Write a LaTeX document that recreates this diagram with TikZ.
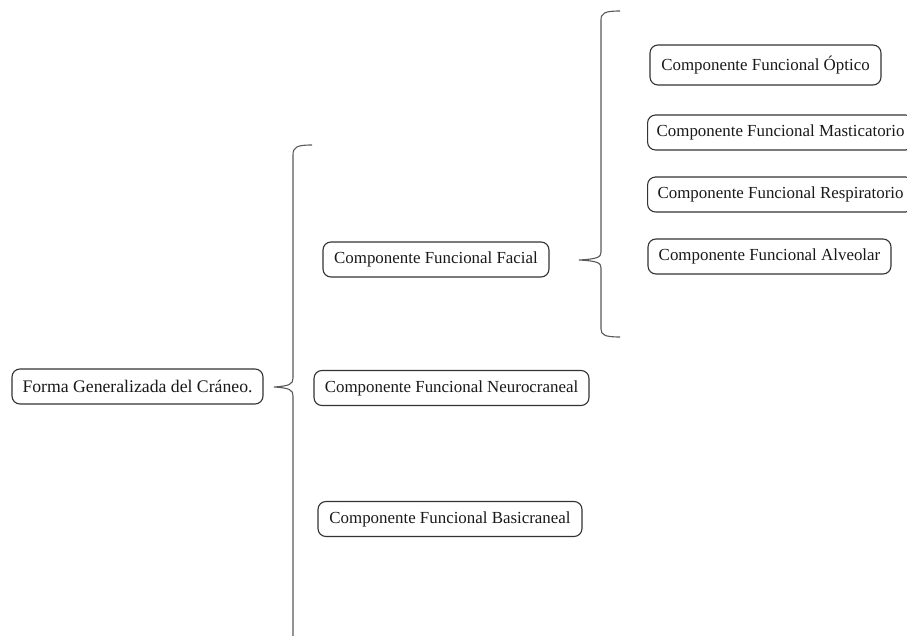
\documentclass[tikz,border=0pt]{standalone}
\usepackage{fontspec}
\setmainfont{Liberation Serif}
\begin{document}
\begin{tikzpicture}[x=1pt,y=-1pt,
  box/.style={draw=black!80, line width=1.1pt, rounded corners=8pt, minimum height=35pt, inner sep=0pt, font=\fontsize{16.9}{18}\selectfont, text=black!90},
  brace/.style={draw=black!65, line width=1.1pt}]
\useasboundingbox (0,0) rectangle (907,636);
\node[box, minimum width=251pt, font=\fontsize{17.7}{19}\selectfont] (forma) at (137.5,386.5) {Forma Generalizada del Cráneo.};
\node[box, minimum width=226pt] (facial) at (436,259.5) {Componente Funcional Facial};
\node[box, minimum width=275pt] (neuro) at (451.5,388) {Componente Funcional Neurocraneal};
\node[box, minimum width=264pt] (basi) at (450,519) {Componente Funcional Basicraneal};
\node[box, minimum width=231pt, minimum height=40pt] (optico) at (765.5,65) {Componente Funcional Óptico};
\node[box, minimum width=266pt, anchor=west] (mast) at (647,132.5) {Componente Funcional Masticatorio};
\node[box, minimum width=266pt, anchor=west] (resp) at (647,194.5) {Componente Funcional Respiratorio};
\node[box, minimum width=243pt] (alv) at (769.5,256.5) {Componente Funcional Alveolar};
\coordinate (tipA) at (274,387);
\coordinate (tipB) at (579,260);
\draw[brace] (312,145) .. controls (297,145) and (293,147) .. (293,155) -- (293,378)
  .. controls (293,384) and (290,386) .. (tipA)
  .. controls (290,388) and (293,390) .. (293,396) -- (293,640);
\draw[brace] (620,11) .. controls (605,11) and (601,13) .. (601,20) -- (601,252)
  .. controls (601,257) and (598,259) .. (tipB)
  .. controls (598,261) and (601,263) .. (601,268) -- (601,329)
  .. controls (601,335) and (605,337) .. (620,337);
\end{tikzpicture}
\end{document}
